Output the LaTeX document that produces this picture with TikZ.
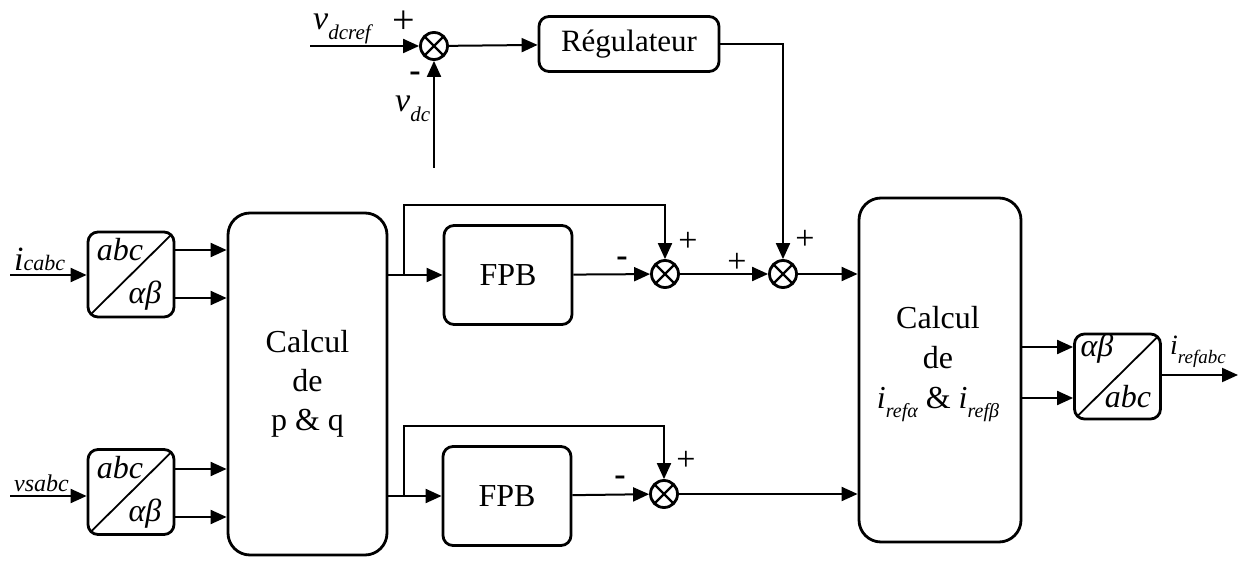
\documentclass[tikz,border=0pt]{standalone}
\usepackage{fontspec}
\setmainfont{Liberation Serif}
\usetikzlibrary{arrows.meta,calc}
\newcommand{\sbs}[2][20]{\raisebox{-0.3em}{\fontsize{#1}{#1}\selectfont\itshape #2}}
\begin{document}
\begin{tikzpicture}[x=1pt,y=-1pt,
  every node/.style={font=\fontsize{32}{39}\selectfont},
  blk/.style={draw,line width=2.8pt,rounded corners=10pt,inner sep=0pt,align=center},
  big/.style={blk,rounded corners=22pt},
  sumj/.style={draw,circle,line width=2.8pt,minimum size=27pt,inner sep=0pt,
    path picture={\draw[line width=2.4pt] (path picture bounding box.north west)--(path picture bounding box.south east)
      (path picture bounding box.south west)--(path picture bounding box.north east);}},
  conv/.style={blk,minimum width=86pt,minimum height=85pt,
    path picture={\draw[line width=1.8pt] (path picture bounding box.south west)--(path picture bounding box.north east);}},
  arr/.style={-{Triangle[length=16pt,width=14pt]},line width=2pt},
  lbl/.style={inner sep=0pt},
  sgn/.style={inner sep=0pt,font=\fontsize{34}{34}\selectfont},
  neg/.style={inner sep=0pt,font=\fontsize{34}{34}\selectfont\bfseries}
]
\useasboundingbox (0,0) rectangle (1248,561);

% top loop
\node[blk,minimum width=180pt,minimum height=55pt,font=\fontsize{31}{39}\selectfont] (reg) at (629,44) {Régulateur};
\node[sumj] (s1) at (434,46) {};
\coordinate (vin) at (310,46);
\coordinate (vdc) at (434,168);
\draw[arr] (vin) -- (s1);
\draw[arr] (vdc) -- (s1);
\draw[arr] (s1) -- (reg);
\node[lbl,anchor=base west] (lvref) at (313,30) {{\fontsize{34}{34}\selectfont\itshape v}\sbs[21]{dcref}};
\node[sgn,font=\fontsize{40}{40}\selectfont] (p1) at (404,22) {+};
\node[neg] (m1) at (415,77) {-};
\node[lbl,anchor=base west] (lvdc) at (395,112) {{\fontsize{34}{34}\selectfont\itshape v}\sbs[21]{dc}};

% converters
\node[conv] (c1) at (131,274.5) {};
\node[lbl] (c1a) at (120,250) {\textit{abc}};
\node[lbl] (c1b) at (145,296) {\textit{αβ}};
\node[conv] (c2) at (131,492) {};
\node[lbl] (c2a) at (120,468) {\textit{abc}};
\node[lbl] (c2b) at (145,514) {\textit{αβ}};

\coordinate (ic) at (10,275);
\coordinate (vs) at (10,496);
\draw[arr] (ic) -- (ic -| c1.west);
\draw[arr] (vs) -- (vs -| c2.west);
\node[lbl,anchor=base west] (lic) at (14,271) {{\fontsize{34}{34}\selectfont\itshape i}{\fontsize{22}{22}\selectfont\itshape cabc}};
\node[lbl,anchor=base west] (lvs) at (14,491) {\fontsize{24}{24}\selectfont\itshape vsabc};

% p & q block
\node[big,minimum width=159pt,minimum height=342pt] (pq) at (307.5,384) {Calcul\\de\\p \& q};
\draw[arr] ([yshift=24.5pt]c1.east) -- ([yshift=24.5pt]c1.east -| pq.west);
\draw[arr] ([yshift=-23.5pt]c1.east) -- ([yshift=-23.5pt]c1.east -| pq.west);
\draw[arr] ([yshift=23pt]c2.east) -- ([yshift=23pt]c2.east -| pq.west);
\draw[arr] ([yshift=-25pt]c2.east) -- ([yshift=-25pt]c2.east -| pq.west);

% FPB blocks and sums
\node[blk,minimum width=128pt,minimum height=99pt] (f1) at (508,275) {FPB};
\node[blk,minimum width=128pt,minimum height=99pt] (f2) at (507,496) {FPB};
\node[sumj] (s2) at (665,274) {};
\node[sumj] (s3) at (783,274) {};
\node[sumj] (s4) at (664,494) {};

\draw[arr] (pq.east |- f1.west) -- (f1.west);
\draw[arr] (pq.east |- f2.west) -- (f2.west);
\coordinate (j1) at (404,275);
\coordinate (t1) at (404,205);
\coordinate (j2) at (404,496);
\coordinate (t2) at (404,426);
\draw[arr] (j1) -- (t1) -| (s2.north);
\draw[arr] (j2) -- (t2) -| (s4.north);
\draw[arr] (f1) -- (s2);
\draw[arr] (f2) -- (s4);
\draw[arr] (s2) -- (s3);
\draw[arr] (reg.east) -| (s3.north);

\node[sgn] (p2) at (688,242) {+};
\node[neg] (m2) at (622,262) {-};
\node[sgn] (p3) at (737,263) {+};
\node[sgn] (p4) at (805,240) {+};
\node[sgn] (p5) at (686,461) {+};
\node[neg] (m5) at (620,481) {-};

% iref block
\node[big,minimum width=162pt,minimum height=344pt] (ir) at (940,370) {};
\node[lbl,align=center,font=\fontsize{32}{40}\selectfont] (irt) at (938,364) {Calcul\\de\\\textit{i}\sbs{refα} \& \textit{i}\sbs{refβ}};
\draw[arr] (s3) -- (s3 -| ir.west);
\draw[arr] (s4) -- (s4 -| ir.west);

% output converter
\node[conv] (c3) at (1117.5,376.5) {};
\node[lbl] (c3a) at (1097,349) {\textit{αβ}};
\node[lbl] (c3b) at (1128,397) {\textit{abc}};
\draw[arr] ([yshift=29.5pt]c3.west -| ir.east) -- ([yshift=29.5pt]c3.west);
\draw[arr] ([yshift=-21.5pt]c3.west -| ir.east) -- ([yshift=-21.5pt]c3.west);
\coordinate (out) at (1238,375);
\draw[arr] (c3.east |- out) -- (out);
\node[lbl,anchor=base west] (liref) at (1170,355) {\fontsize{28}{28}\selectfont\itshape i\sbs[19]{refabc}};
\end{tikzpicture}
\end{document}
